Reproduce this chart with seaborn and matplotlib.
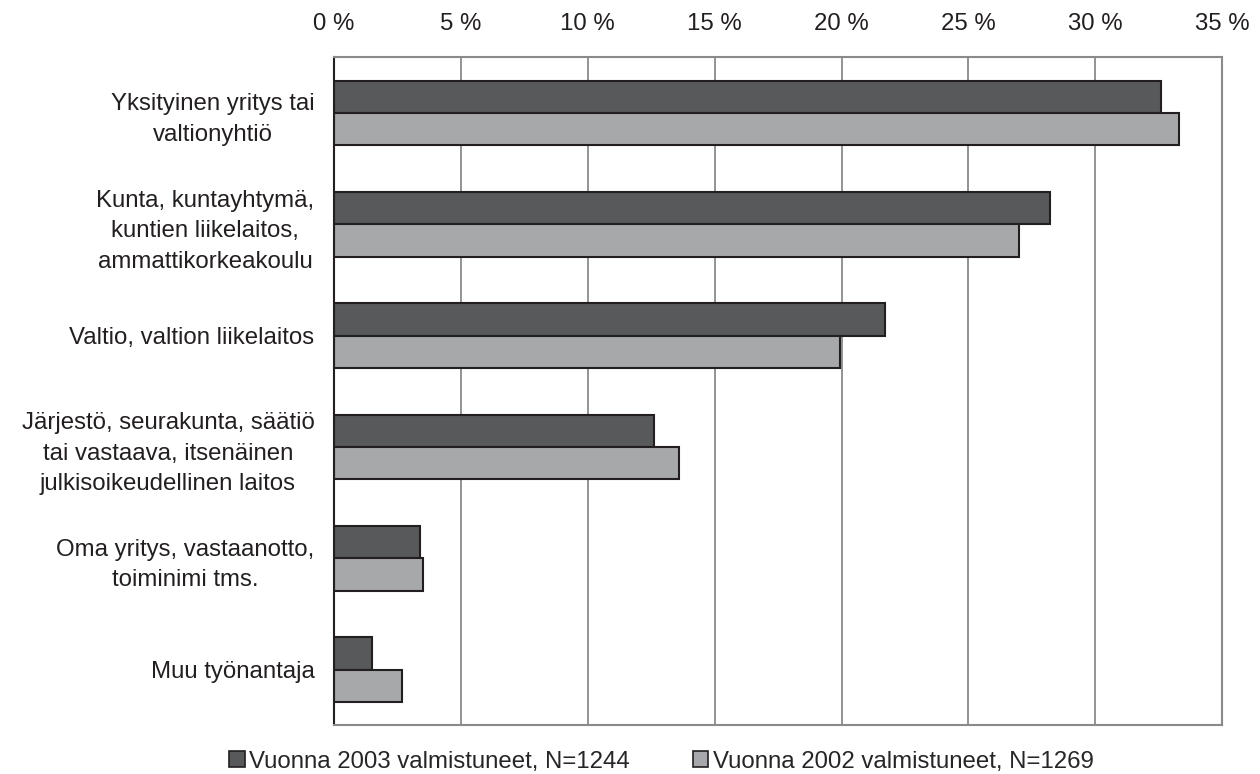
import matplotlib
matplotlib.use("Agg")
import matplotlib.pyplot as plt
import seaborn as sns
import pandas as pd
from matplotlib.patches import Patch
from matplotlib.ticker import FuncFormatter

# Tiedot
kategoriat = [
    "Yksityinen yritys tai\nvaltionyhtiö",
    "Kunta, kuntayhtymä,\nkuntien liikelaitos,\nammattikorkeakoulu",
    "Valtio, valtion liikelaitos",
    "Järjestö, seurakunta, säätiö\ntai vastaava, itsenäinen\njulkisoikeudellinen laitos",
    "Oma yritys, vastaanotto,\ntoiminimi tms.",
    "Muu työnantaja",
]
v2003 = [32.6, 28.2, 21.7, 12.6, 3.4, 1.5]
v2002 = [33.3, 27.0, 19.95, 13.6, 3.5, 2.7]
sarjat = ["Vuonna 2003 valmistuneet, N=1244", "Vuonna 2002 valmistuneet, N=1269"]
varit = ["#58595b", "#a6a8ab"]

df = pd.DataFrame({
    "kategoria": kategoriat * 2,
    "osuus": v2003 + v2002,
    "sarja": [sarjat[0]] * 6 + [sarjat[1]] * 6,
})

sns.set_style("white")
plt.rcParams["font.family"] = ["Liberation Sans", "DejaVu Sans"]
koko = 17.3

fig, ax = plt.subplots(figsize=(12.6, 7.74), dpi=100)
fig.subplots_adjust(left=0.265, right=0.970, top=0.926, bottom=0.063)

sns.barplot(data=df, y="kategoria", x="osuus", hue="sarja", orient="h",
            palette=varit, width=0.58, edgecolor="#231f20", linewidth=1.5,
            ax=ax, legend=False)

ax.set_xlim(0, 35)
ax.set_ylim(5.5, -0.5)
ax.set_xticks(range(0, 36, 5))
ax.xaxis.set_major_formatter(FuncFormatter(lambda v, p: f"{int(v)} %"))
ax.xaxis.tick_top()
ax.tick_params(axis="x", length=0, pad=16, labelsize=koko, colors="#231f20")
ax.tick_params(axis="y", length=0, pad=14, labelsize=koko, colors="#231f20")
ax.set_xlabel("")
ax.set_ylabel("")
for lbl in ax.get_yticklabels():
    lbl.set_horizontalalignment("right")
    lbl.set_multialignment("center")
    lbl.set_linespacing(1.5)

ax.grid(axis="x", color="#808080", linewidth=1.2)
ax.set_axisbelow(True)
for side in ["top", "right", "bottom"]:
    ax.spines[side].set_color("#8a8a8a")
    ax.spines[side].set_linewidth(1.5)
ax.spines["left"].set_color("#231f20")
ax.spines["left"].set_linewidth(1.5)

kahvat = [Patch(facecolor=c, edgecolor="#231f20", linewidth=1.2) for c in varit]
fig.legend(kahvat, sarjat, loc="center", bbox_to_anchor=(0.525, 0.016),
           ncol=2, frameon=False, fontsize=koko, handlelength=0.65,
           handleheight=0.65, handletextpad=0.2, columnspacing=2.6,
           borderpad=0)

plt.savefig("out.png", dpi=100)
